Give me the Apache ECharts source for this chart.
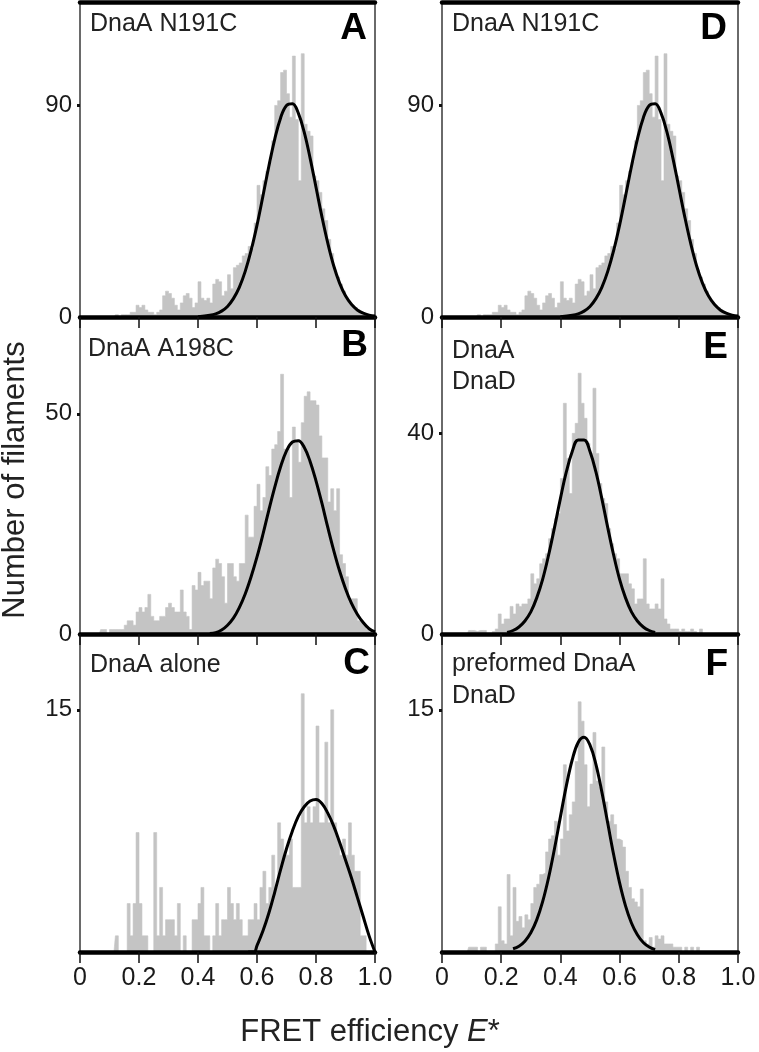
<!DOCTYPE html>
<html><head><meta charset="utf-8">
<script src="https://cdn.jsdelivr.net/npm/echarts@6/dist/echarts.min.js"></script>
<style>html,body{margin:0;padding:0;background:#fff}#c{width:759px;height:1052px}</style>
</head><body><div id="c"></div>
<script>
// ---- data: histogram counts in 0.01-wide bins of E* (0.00 .. 1.00) ----
const binStart = 0, binWidth = 0.01;
const xTicks = [0, 0.2, 0.4, 0.6, 0.8, 1.0];

const histA = [0,0,0,0,0,0,0,0,0,0, 0,0,1,0,1,1,1,2,2,5, 4,5,3,2,2,1,2,3,9,11, 10,8,5,3,6,9,10,8,4,6,
  15,8,7,8,6,14,16,15,9,11, 18,12,21,22,23,26,27,30,29,40, 56,52,58,62,66,75,90,92,104,105,
  95,85,111,84,58,112,82,79,77,60, 58,53,46,41,33,27,20,17,14,11, 8,6,5,4,3,2,1,1,1,0];
const histB = [0,0,0,0,0,0,0,1,1,0, 1,1,1,1,1,2,3,3,2,5, 6,5,6,9,4,3,3,4,4,6, 7,6,5,5,10,5,4,1,11,10,
  14,11,12,12,8,15,17,16,13,7, 16,16,13,12,16,16,27,22,22,29, 34,28,31,38,36,42,43,46,59,42,
  42,31,47,44,39,48,54,55,53,53, 52,45,40,40,30,33,28,33,18,16, 13,8,8,8,3,3,2,1,1,0];
const histC = [0,0,0,0,0,0,0,0,0,0, 0,0,1,0,0,0,3,1,3,7.4, 3,1,1,0,0,7.4,1,4,1,2, 2,2,1,3,0,1,0,0,2,2,
  3,4,1,1,0,1,3,1,2,2, 4,3,2,3,2,1,1,2,2,3, 2,4,5,3,4,6,4,8,7,6,
  6,7,4,4,4,16,8,9,8,9, 14,8,8,13,8,15,8,7,6,7, 6,8,6,5,5,1,1,0,0,0];
const histD = histA.slice();
const histE = [0,0,0,0,0,0,0,0,0,0.7, 0.7,0.5,0.7,0.7,0.7,0,0,0.5,1,4, 2,3,3,5.5,4,6,5.5,6,6,7,
  12,10,11,14,15,16,19,21,23,24, 31,46,35,28,40,42,52,46,43,38, 36,49,36,30,27,26,21,18,16,15,
  12,12,12,10,9,6,7,7,15,6, 5,5,6,5,11,3,2,1,1,1, 0.5,1,0.5,0.5,1,0.5,0,1,0,0, 0,0,0,0,0,0,0,0,0,0];
const histF = [0,0,0,0,0,0,0,0,0,0.3, 0.3,0.3,0,0.3,0.3,0,0,0,0.5,2.8, 0.7,0.5,4.8,1,4,1.9,2.2,1.5,2.3,2,
  3,4,4.2,4.8,4.9,6.2,7,7.2,8.1,6, 7,11.6,7.5,8.5,9.3,11.8,15.5,14.3,11.6,9,
  10.4,13.6,10.6,10.2,12.7,9.3,8.1,8.5,7.9,7, 6.9,6.5,5,4,3.3,3.1,2.8,3.9,0.7,0.5,
  0.9,0.3,1,0.8,1,0.5,0.5,0.5,0.3,0.3, 0.3,0,0.3,0,0.3,0,0.3,0,0,0, 0,0,0,0,0,0,0,0,0,0];

// ---- fitted curves as [E*, count] ----
const fitA = [[0.40,0.1],[0.44,0.7],[0.46,1.3],[0.48,2.5],[0.50,4.5],[0.52,7.8],[0.54,12.6],[0.56,19.4],[0.58,28.3],[0.60,39.1],[0.62,51.4],[0.64,64.0],[0.66,75.6],[0.68,84.7],[0.70,90.0],[0.72,90.7],[0.74,86.7],[0.76,78.6],[0.78,67.6],[0.80,55.2],[0.82,42.7],[0.84,31.4],[0.86,21.8],[0.88,14.4],[0.90,9.0],[0.92,5.4],[0.94,3.0],[0.96,1.6],[0.98,0.8],[1.00,0.4]];
const fitB = [[0.44,0.1],[0.46,0.3],[0.48,0.9],[0.50,2.0],[0.52,3.6],[0.54,6.0],[0.56,9.1],[0.58,13.0],[0.60,17.5],[0.62,22.6],[0.64,28.1],[0.66,33.3],[0.68,38.0],[0.70,41.6],[0.72,43.6],[0.74,43.9],[0.76,42.4],[0.78,39.2],[0.80,34.8],[0.82,29.7],[0.84,24.2],[0.86,19.0],[0.88,14.3],[0.90,10.3],[0.92,7.0],[0.94,4.5],[0.96,2.6],[0.98,1.2],[1.00,0.5]];
const fitC = [[0.57,0],[0.59,0],[0.60,0.4],[0.62,1.3],[0.64,2.4],[0.66,3.7],[0.68,5.1],[0.70,6.4],[0.72,7.5],[0.74,8.4],[0.76,9.0],[0.78,9.35],[0.80,9.45],[0.82,9.2],[0.84,8.6],[0.86,7.8],[0.88,6.8],[0.90,5.7],[0.92,4.6],[0.94,3.4],[0.96,2.2],[0.98,1.0],[1.00,0]];
const fitD = fitA.slice();
const fitE = [[0.22,0.3],[0.24,0.7],[0.26,1.4],[0.28,2.6],[0.30,4.4],[0.32,7.2],[0.34,10.9],[0.36,15.7],[0.38,21.2],[0.40,27.0],[0.42,32.3],[0.44,36.4],[0.46,38.7],[0.48,38.7],[0.50,36.4],[0.52,32.3],[0.54,27.0],[0.56,21.2],[0.58,15.7],[0.60,10.9],[0.62,7.2],[0.64,4.4],[0.66,2.6],[0.68,1.4],[0.70,0.7],[0.72,0.3]];
const fitF = [[0.24,0.2],[0.26,0.36],[0.28,0.67],[0.30,1.19],[0.32,1.99],[0.34,3.12],[0.36,4.60],[0.38,6.40],[0.40,8.37],[0.42,10.29],[0.44,11.91],[0.46,12.98],[0.48,13.3],[0.50,12.82],[0.52,11.63],[0.54,9.92],[0.56,7.97],[0.58,6.02],[0.60,4.28],[0.62,2.86],[0.64,1.80],[0.66,1.07],[0.68,0.59],[0.70,0.31],[0.72,0.15]];

// y-axis extents and the tick values shown
const yMaxes = [134, 72, 19.7, 134, 63.2, 19.7];
const yLabelVals = [[0, 90], [0, 50], [15], [0, 90], [0, 40], [15]];
const yTickVals = [[90], [50], [15], [90], [40], [15]];

const panelLetters = ['A', 'B', 'C', 'D', 'E', 'F'];
const panelCaptions = [['DnaA N191C'], ['DnaA A198C'], ['DnaA alone'], ['DnaA N191C'], ['DnaA', 'DnaD'], ['preformed DnaA', 'DnaD']];
const xTitle = 'FRET efficiency ';
const xTitleItalic = 'E';
const yTitle = 'Number of filaments';

// ---- layout ----
const FONT = '"Liberation Sans", Arial, Helvetica, sans-serif';
const hists = [histA, histB, histC, histD, histE, histF];
const fits = [fitA, fitB, fitC, fitD, fitE, fitF];
const cols = [{left: 80, width: 295}, {left: 442, width: 296}];
const rows = [{top: 2, height: 315}, {top: 317, height: 317}, {top: 634, height: 318}];

const grid = [], xAxis = [], yAxis = [], series = [];
for (let i = 0; i < 6; i++) {
  const c = cols[Math.floor(i / 3)], r = rows[i % 3];
  const row = i % 3;
  grid.push({left: c.left, width: c.width, top: r.top, height: r.height, show: true,
    borderColor: '#3a3a3a', borderWidth: 1.5, backgroundColor: 'transparent'});
  const xi = xAxis.length;
  xAxis.push({gridIndex: i, type: 'value', min: 0, max: 1, interval: 0.2, z: 10,
    axisLine: {show: true, onZero: false, lineStyle: {color: '#000', width: 4.5}},
    axisTick: {show: true, length: 11, lineStyle: {color: '#111', width: 1.5}},
    axisLabel: {show: row === 2, fontSize: 25, fontFamily: FONT, color: '#1a1a1a', margin: 14,
      formatter: v => (v === 0 ? '0' : v.toFixed(1))},
    splitLine: {show: false}});
  if (row === 0) {
    xAxis.push({gridIndex: i, type: 'value', position: 'top', min: 0, max: 1, z: 10,
      axisLine: {show: true, onZero: false, lineStyle: {color: '#000', width: 4.5}},
      axisTick: {show: false}, axisLabel: {show: false}, splitLine: {show: false}});
  }
  yAxis.push({gridIndex: i, type: 'value', min: 0, max: yMaxes[i],
    axisLine: {show: false},
    axisTick: {show: true, customValues: yTickVals[i], length: 3, lineStyle: {color: '#111', width: 3}},
    axisLabel: {show: true, customValues: yLabelVals[i], fontSize: 24, fontFamily: FONT, color: '#1a1a1a', margin: 8},
    splitLine: {show: false}});
  series.push({type: 'line', xAxisIndex: xi, yAxisIndex: i, step: 'middle', symbol: 'none', silent: true,
    data: hists[i].map((v, k) => [binStart + (k + 0.5) * binWidth, v]),
    lineStyle: {width: 0.6, color: '#c4c4c4'}, itemStyle: {color: '#c4c4c4'},
    areaStyle: {color: '#c4c4c4', opacity: 1}, z: 2});
  series.push({type: 'line', xAxisIndex: xi, yAxisIndex: i, smooth: 0.4, symbol: 'none', silent: true,
    data: fits[i], lineStyle: {width: 3, color: '#000'}, itemStyle: {color: '#000'}, z: 3});
}

// text annotations
const letterPos = [[367, 28.5], [368, 346], [370, 663.5], [727, 28.5], [728, 347.5], [728, 664.5]];
const captionPos = [[[90, 24]], [[88, 349.5]], [[90, 665]], [[452, 24]], [[452, 351.5], [452, 382]], [[452, 664], [452, 696.5]]];
const graphic = [];
for (let i = 0; i < 6; i++) {
  graphic.push({type: 'text', x: letterPos[i][0], y: letterPos[i][1], z: 100,
    style: {text: panelLetters[i], fontSize: 37, fontWeight: 'bold', fontFamily: FONT, fill: '#000', align: 'right', verticalAlign: 'middle'}});
  panelCaptions[i].forEach((t, k) => {
    graphic.push({type: 'text', x: captionPos[i][k][0], y: captionPos[i][k][1], z: 100,
      style: {text: t, fontSize: 25, fontFamily: FONT, fill: '#222', align: 'left', verticalAlign: 'middle'}});
  });
}
graphic.push({type: 'text', x: 15, y: 480, rotation: Math.PI / 2, z: 100,
  style: {text: yTitle, fontSize: 31, fontFamily: FONT, fill: '#222', align: 'center', verticalAlign: 'middle'}});
graphic.push({type: 'text', x: 370, y: 1032, z: 100,
  style: {text: '{n|' + xTitle + '}{i|' + xTitleItalic + '}{n|*}', align: 'center', verticalAlign: 'middle',
    rich: {n: {fontSize: 31, fontFamily: FONT, fill: '#222'}, i: {fontSize: 31, fontFamily: FONT, fontStyle: 'italic', fill: '#222'}}}});

const chart = echarts.init(document.getElementById('c'), null, {renderer: 'canvas'});
chart.setOption({animation: false, backgroundColor: '#fff', grid, xAxis, yAxis, series, graphic});
</script></body></html>
